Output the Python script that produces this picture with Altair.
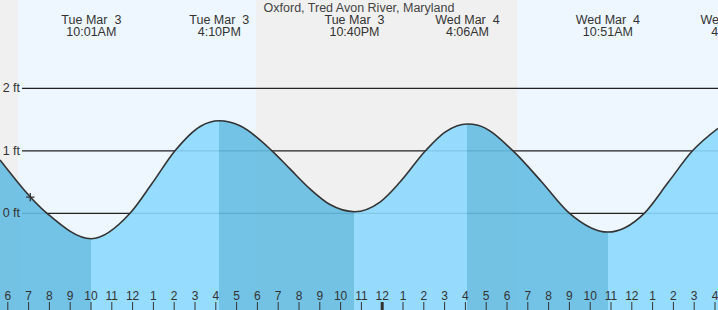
import altair as alt
import pandas as pd

# ---- data ----
# tide curve: hours since Mar 3 00:00, level in ft
curve_hours = [5.625, 7.885, 10.017, 11.875, 12.94, 14.038, 15.25, 16.167, 17.164, 18.702,
               19.567, 20.529, 21.49, 22.667, 23.894, 24.856, 26.08, 27.02, 28.1, 28.6,
               30.288, 31.65, 33.01, 34.85, 36.596, 37.76, 38.918, 40.144]
curve_levels = [0.853, 0.0, -0.406, 0.0, 0.48, 1.0, 1.39, 1.48, 1.40, 1.0,
                0.71, 0.39, 0.14, 0.026, 0.18, 0.50, 1.0, 1.30, 1.43, 1.41,
                1.0, 0.51, 0.0, -0.30, 0.0, 0.50, 1.0, 1.36]
extreme_hours = [10.017, 16.167, 22.667, 28.1, 34.85]

# top labels (tide extremes)
event_hours = [10.017, 16.167, 22.667, 28.1, 34.85, 40.85]
event_dates = ["Tue Mar \u00a03", "Tue Mar \u00a03", "Tue Mar \u00a03",
               "Wed Mar \u00a04", "Wed Mar \u00a04", "Wed Mar \u00a04"]
event_times = ["10:01AM", "4:10PM", "10:40PM", "4:06AM", "10:51AM", "4:51PM"]

# day / night bands
band_start = [5.625, 6.49, 17.93, 30.48]
band_end = [6.49, 17.93, 30.48, 40.144]
band_kind = ["night", "day", "night", "day"]

# y axis
grid_ft = [0, 1, 2]
grid_labels = ["0 ft", "1 ft", "2 ft"]

# hour ticks
tick_hours = list(range(6, 41))
tick_labels = [str((h % 12) or 12) for h in tick_hours]

# current time marker
now_hour = [7.08]
now_level = [0.26]

title_text = "Oxford, Tred Avon River, Maryland"

# ---- scales ----
XDOM = [5.625, 40.144]
YDOM = [-1.547, 3.413]
xs = alt.Scale(domain=XDOM, range=[0, 718], nice=False, zero=False)
ys = alt.Scale(domain=YDOM, range=[310, 0], nice=False, zero=False)
FONT = "Liberation Sans"
TXT = "#333333"
DARK = "#65BDE3"
LIGHT = "#8CD9FF"
INTERP = "monotone"

curve = pd.DataFrame({"h": curve_hours, "ft": curve_levels})

# hard-edged gradient: falling (dark) / rising (light) between extremes
h0, h1 = curve_hours[0], curve_hours[-1]
stops = []
colors_seq = [DARK, LIGHT, DARK, LIGHT, DARK, LIGHT]
edges = [h0] + extreme_hours + [h1]
for i, c in enumerate(colors_seq):
    a = (edges[i] - h0) / (h1 - h0)
    b = (edges[i + 1] - h0) / (h1 - h0)
    stops.append(alt.GradientStop(color=c, offset=a))
    stops.append(alt.GradientStop(color=c, offset=b))
grad = alt.Gradient(gradient="linear", stops=stops, x1=0, x2=1, y1=0, y2=0)

bands = pd.DataFrame({"s": band_start, "e": band_end, "kind": band_kind})
grid = pd.DataFrame({"ft": grid_ft, "lab": grid_labels})
events = pd.DataFrame({"h": event_hours, "d": event_dates, "t": event_times})
ticks = pd.DataFrame({"h": tick_hours, "lab": tick_labels,
                      "w": [3 if h % 24 == 0 else 1 for h in tick_hours]})
now = pd.DataFrame({"h": now_hour, "ft": now_level})

bg = alt.Chart(bands).mark_rect().encode(
    x=alt.X("s:Q", scale=xs, axis=None),
    x2="e:Q",
    y=alt.value(0), y2=alt.value(310),
    color=alt.Color("kind:N", scale=alt.Scale(domain=["night", "day"], range=["#F0F0F0", "#EEF7FF"]), legend=None),
)

gridlines = alt.Chart(grid).mark_rule(color="#222222", strokeWidth=1.2).encode(
    y=alt.Y("ft:Q", scale=ys, axis=None),
    x=alt.value(22), x2=alt.value(718),
)

fill = alt.Chart(curve).mark_area(interpolate=INTERP, opacity=0.9, clip=True, color=grad).encode(
    x=alt.X("h:Q", scale=xs, axis=None),
    y=alt.Y("ft:Q", scale=ys, axis=None, stack=None),
    y2=alt.datum(YDOM[0]),
)

line = alt.Chart(curve).mark_line(interpolate=INTERP, color="#333333", strokeWidth=1.6, clip=True).encode(
    x=alt.X("h:Q", scale=xs, axis=None),
    y=alt.Y("ft:Q", scale=ys, axis=None),
)

ylabels = alt.Chart(grid).mark_text(align="right", baseline="middle", font=FONT, fontSize=12.5, color=TXT).encode(
    y=alt.Y("ft:Q", scale=ys, axis=None),
    x=alt.value(20),
    text="lab:N",
)

top1 = alt.Chart(events).mark_text(align="center", baseline="middle", font=FONT, fontSize=12.5, color=TXT).encode(
    x=alt.X("h:Q", scale=xs, axis=None), y=alt.value(20), text="d:N")
top2 = alt.Chart(events).mark_text(align="center", baseline="middle", font=FONT, fontSize=12.5, color=TXT).encode(
    x=alt.X("h:Q", scale=xs, axis=None), y=alt.value(32), text="t:N")

title = alt.Chart(pd.DataFrame({"t": [title_text]})).mark_text(
    align="center", baseline="middle", font=FONT, fontSize=12.5, color="#444444").encode(
    x=alt.value(359), y=alt.value(8), text="t:N")

tickmarks = alt.Chart(ticks).mark_rule(color="#333333").encode(
    x=alt.X("h:Q", scale=xs, axis=None),
    y=alt.value(302), y2=alt.value(310),
    strokeWidth=alt.StrokeWidth("w:Q", scale=None, legend=None),
)
ticklabels = alt.Chart(ticks).mark_text(align="center", baseline="middle", font=FONT, fontSize=12, color=TXT).encode(
    x=alt.X("h:Q", scale=xs, axis=None), y=alt.value(296), text="lab:N")

marker = alt.Chart(now).mark_point(shape="M -1 0 L 1 0 M 0 -1 L 0 1", size=70, filled=False,
                                   stroke="#333333", strokeWidth=1.3, opacity=1).encode(
    x=alt.X("h:Q", scale=xs, axis=None),
    y=alt.Y("ft:Q", scale=ys, axis=None),
)

chart = alt.layer(bg, gridlines, fill, line, ylabels, top1, top2, title, tickmarks, ticklabels, marker).properties(
    width=718, height=310, padding=0, autosize=alt.AutoSizeParams(type="none"),
).configure_view(stroke=None)

chart.save("out.html", embed_options={"renderer": "svg", "actions": False})
